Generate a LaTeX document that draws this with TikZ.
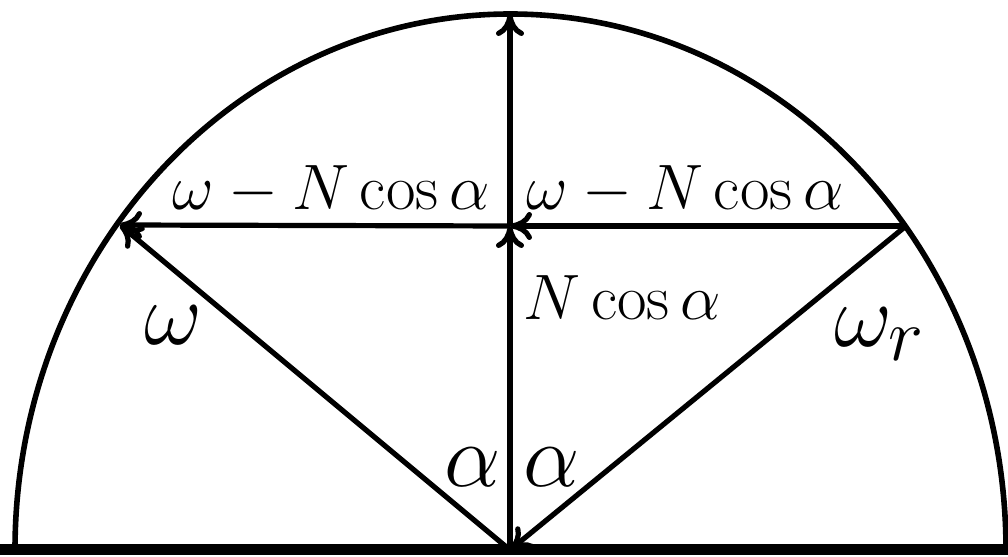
\documentclass[tikz,border=0pt]{standalone}
\usepackage{graphicx}
\usepackage{tikz}
\usetikzlibrary{arrows.meta}
\newcommand{\lbltext}[1]{\scalebox{1.29}{\Huge$#1$}}
\newcommand{\bigtext}[1]{\scalebox{1.8}{\Huge$#1$}}

\begin{document}
\begin{tikzpicture}[x=.5pt,y=.5pt,
    vec/.style={-{To[length=11pt,width=14pt]},line width=2.6pt},
    lbl/.style={inner sep=0pt,anchor=base}]
    \useasboundingbox (0,0) rectangle (1008,557);
    % ground and half ellipse
    \draw[line width=5.5pt] (0,7)--(1008,7);
    \draw[line width=2.8pt] (15,7) arc[start angle=180,end angle=0,x radius=495.5,y radius=536];
    \coordinate (O) at (510,7);
    \coordinate (T) at (510,543);
    \coordinate (M) at (510,331);
    \coordinate (P) at (120,332);
    \coordinate (Q) at (906,331);
    \draw[vec] (O)--(P);
    \draw[vec] (Q)--(O);
    \draw[vec] (O)--(M);
    \draw[vec] (M)--(T);
    \draw[vec] (Q)--(M);
    \draw[vec] (M)--(P);
    \node[lbl] (wl) at (331,347) {\lbltext{\omega-N\cos\alpha}};
    \node[lbl] (wr) at (685,347) {\lbltext{\omega-N\cos\alpha}};
    \node[lbl] (nc) at (622,237) {\lbltext{N\cos\alpha}};
    \node[lbl] (w) at (173,212) {\bigtext{\omega}};
    \node[lbl] (wr2) at (880,210) {\bigtext{\omega_r}};
    \node[lbl] (a1) at (473,70) {\bigtext{\alpha}};
    \node[lbl] (a2) at (552,70) {\bigtext{\alpha}};
  \end{tikzpicture}
\end{document}
